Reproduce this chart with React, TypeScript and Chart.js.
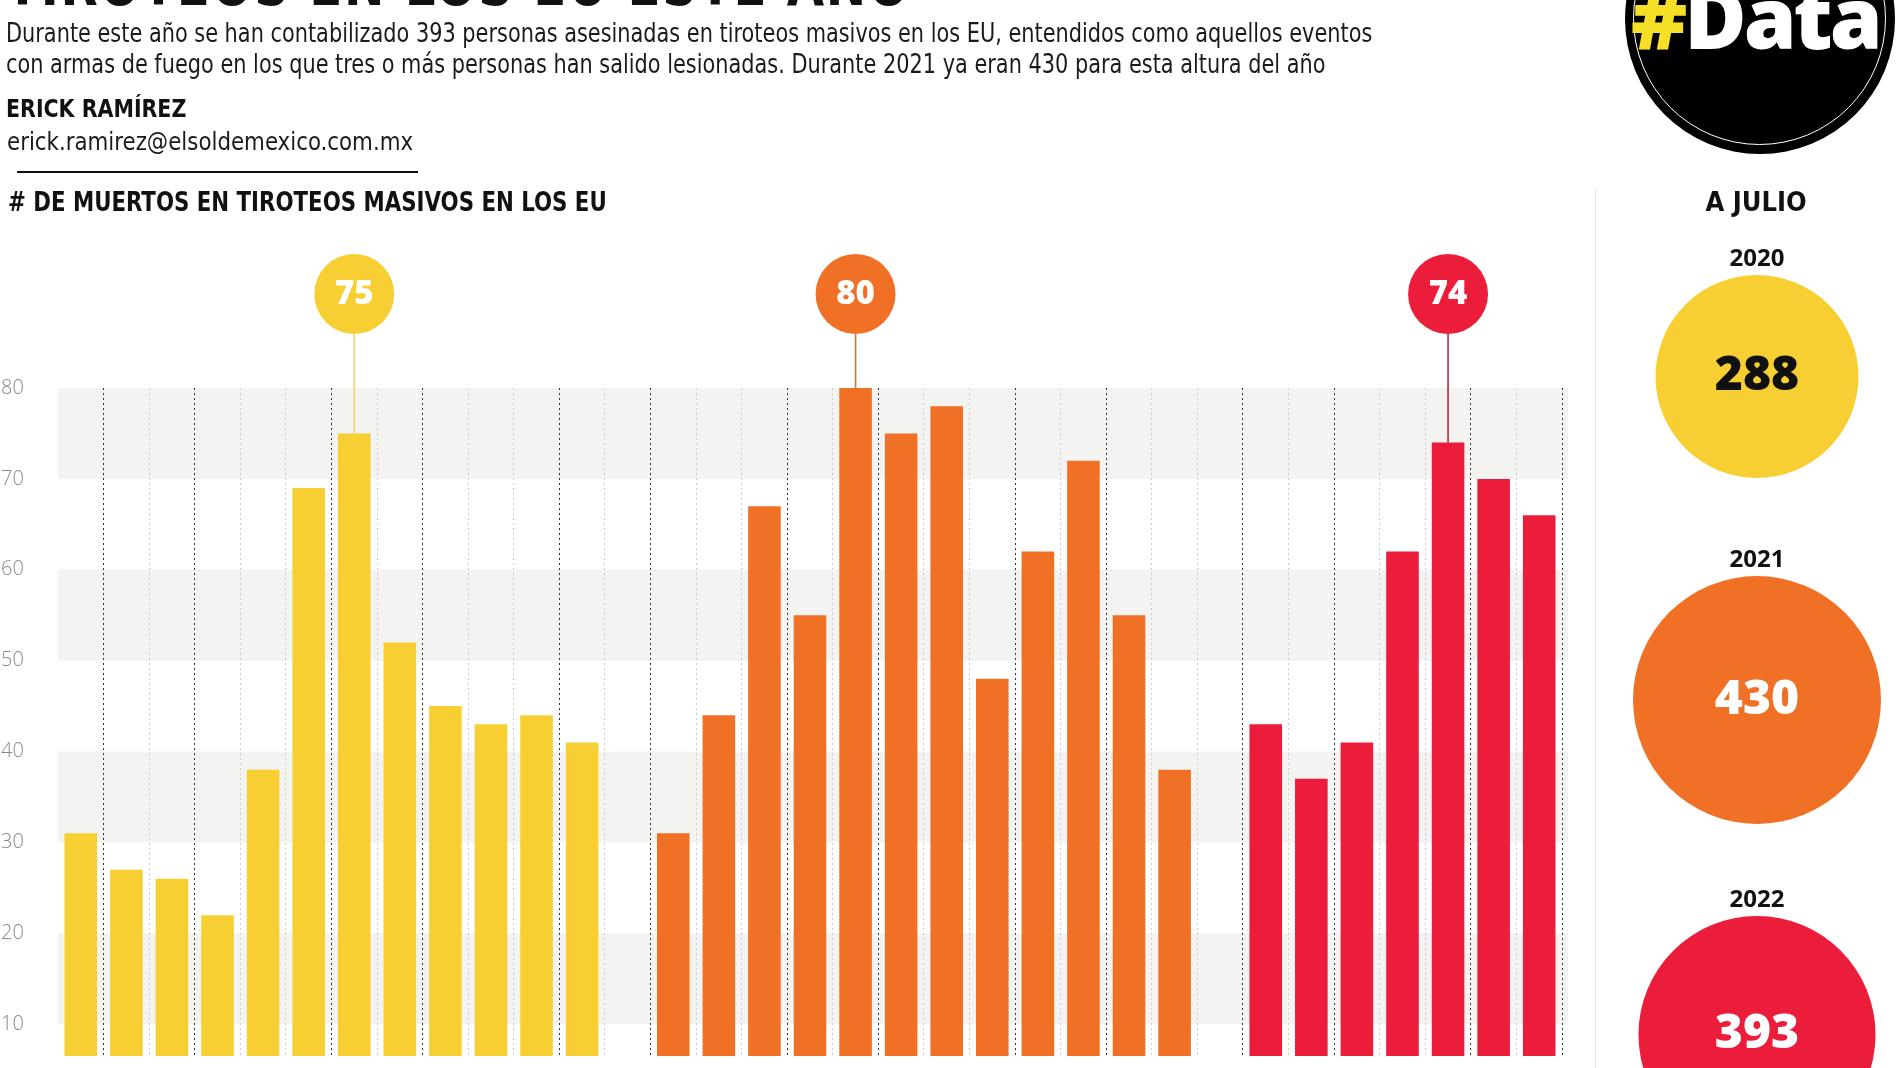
import React, { useEffect, useRef } from 'react';
import { Chart, registerables } from 'chart.js';

Chart.register(...registerables);

// ---------- data ----------
const monthNames = ['Ene', 'Feb', 'Mar', 'Abr', 'May', 'Jun', 'Jul', 'Ago', 'Sep', 'Oct', 'Nov', 'Dic'];
const years = ['2020', '2021', '2022'];
const deaths2020 = [31, 27, 26, 22, 38, 69, 75, 52, 45, 43, 44, 41];
const deaths2021 = [31, 44, 67, 55, 80, 75, 78, 48, 62, 72, 55, 38];
const deaths2022 = [43, 37, 41, 62, 74, 70, 66];
const totalsToJuly = [288, 430, 393];
const yTicks = [10, 20, 30, 40, 50, 60, 70, 80];
const bandRanges = [[70, 80], [50, 60], [30, 40], [10, 20]];

const seriesColors = ['#f7cf33', '#f07125', '#ec1c3b'];
const calloutLineColors = ['#f3d46a', '#c9763f', '#b8283a'];
const totalTextColors = ['#111111', '#ffffff', '#ffffff'];

const NARROW = '"Liberation Sans Narrow", "DejaVu Sans Condensed", Roboto, sans-serif';
const OPEN = '"Open Sans", "Noto Sans", sans-serif';

// categories: each year's months, with one empty slot between years
const labels: string[] = [];
const starts: number[] = [];
[deaths2020, deaths2021, deaths2022].forEach((arr, yi) => {
  if (yi > 0) labels.push('');
  starts.push(labels.length);
  arr.forEach((_, m) => labels.push(`${monthNames[m]} ${years[yi]}`));
});
const align = (arr: number[], start: number) =>
  labels.map((_, i) => (i >= start && i < start + arr.length ? arr[i - start] : null));

const bandPlugin = {
  id: 'bands',
  beforeDraw(chart: any) {
    const { ctx, chartArea, scales } = chart;
    const y = scales.y;
    ctx.save();
    ctx.fillStyle = '#f3f3f1';
    for (const [lo, hi] of bandRanges) {
      const t = y.getPixelForValue(hi);
      const b = y.getPixelForValue(lo);
      ctx.fillRect(chartArea.left, t, chartArea.right - chartArea.left + 6, b - t);
    }
    ctx.restore();
  },
};

const calloutPlugin = {
  id: 'callouts',
  afterDatasetsDraw(chart: any) {
    const { ctx, chartArea } = chart;
    ctx.save();
    chart.data.datasets.forEach((ds: any, di: number) => {
      const meta = chart.getDatasetMeta(di);
      let best = -1;
      let bv = -Infinity;
      ds.data.forEach((v: number | null, i: number) => {
        if (v != null && v > bv) {
          bv = v;
          best = i;
        }
      });
      if (best < 0) return;
      const bar = meta.data[best];
      const cx = bar.x;
      const r = 40;
      const cy = chartArea.top - 94;
      ctx.strokeStyle = calloutLineColors[di];
      ctx.lineWidth = 1.6;
      ctx.beginPath();
      ctx.moveTo(cx, bar.y);
      ctx.lineTo(cx, cy + r);
      ctx.stroke();
      ctx.fillStyle = seriesColors[di];
      ctx.beginPath();
      ctx.arc(cx, cy, r, 0, Math.PI * 2);
      ctx.fill();
      ctx.fillStyle = '#ffffff';
      ctx.font = `800 33px ${OPEN}`;
      ctx.textAlign = 'center';
      ctx.textBaseline = 'middle';
      ctx.fillText(String(bv), cx, cy + 1);
    });
    ctx.restore();
  },
};

const totalsPlugin = {
  id: 'totals',
  afterDraw(chart: any) {
    const { ctx } = chart;
    const cx = 1757;
    const labelY = [259, 560, 900];
    const maxTotal = Math.max(...totalsToJuly);
    const rMax = 124;
    ctx.save();
    totalsToJuly.forEach((v, i) => {
      const r = rMax * Math.sqrt(v / maxTotal);
      const cy = labelY[i] + 16 + r;
      ctx.fillStyle = '#111111';
      ctx.font = `bold 24px ${OPEN}`;
      ctx.textAlign = 'center';
      ctx.textBaseline = 'middle';
      ctx.fillText(years[i], cx, labelY[i]);
      ctx.fillStyle = seriesColors[i];
      ctx.beginPath();
      ctx.arc(cx, cy, r, 0, Math.PI * 2);
      ctx.fill();
      ctx.fillStyle = totalTextColors[i];
      ctx.font = `800 48px ${OPEN}`;
      ctx.fillText(String(v), cx, cy);
    });
    ctx.restore();
  },
};

export default function App() {
  const ref = useRef<HTMLCanvasElement | null>(null);

  useEffect(() => {
    if (!ref.current) return;
    const total = labels.length;
    const chart = new Chart(ref.current, {
      type: 'bar',
      data: {
        labels,
        datasets: [deaths2020, deaths2021, deaths2022].map((arr, i) => ({
          label: years[i],
          data: align(arr, starts[i]),
          backgroundColor: seriesColors[i],
          borderWidth: 0,
          barPercentage: 0.715,
          categoryPercentage: 1,
          grouped: false,
        })),
      },
      options: {
        responsive: false,
        animation: false,
        devicePixelRatio: 1,
        layout: { padding: { top: 388, right: 338, left: 1, bottom: 0 } },
        plugins: { legend: { display: false }, tooltip: { enabled: false } },
        scales: {
          x: {
            type: 'category',
            offset: true,
            grid: {
              offset: true,
              drawTicks: false,
              lineWidth: 1,
              color: (c: any) => {
                const k = c.index === undefined ? total : c.index;
                if (k === 0) return 'rgba(0,0,0,0)';
                const m = k % 5;
                return m === 1 || m === 3 ? '#333333' : '#cccccc';
              },
            },
            border: { display: false, dash: [2, 3] },
            ticks: { display: false },
            afterFit: (s: any) => {
              s.height = 0;
            },
          },
          y: {
            min: 6.5,
            max: 80,
            grid: { display: false },
            border: { display: false },
            ticks: {
              color: '#8a8a8a',
              font: { family: OPEN, size: 20, weight: '300' },
              crossAlign: 'far',
              padding: 0,
            },
            afterBuildTicks: (s: any) => {
              s.ticks = yTicks.map((v) => ({ value: v }));
            },
            afterFit: (s: any) => {
              s.width = 57;
            },
          },
        },
      } as any,
      plugins: [bandPlugin, calloutPlugin, totalsPlugin],
    });
    return () => chart.destroy();
  }, []);

  const abs = (s: React.CSSProperties, sx = 1): React.CSSProperties => ({
    position: 'absolute',
    whiteSpace: 'nowrap',
    transform: sx !== 1 ? `scaleX(${sx})` : undefined,
    transformOrigin: 'left top',
    ...s,
  });

  return (
    <div style={{ position: 'absolute', left: 0, top: 0, width: 1900, height: 1068, overflow: 'hidden', background: '#fff' }}>
      <canvas ref={ref} width={1900} height={1068} style={{ position: 'absolute', left: 0, top: 0 }} />
      <div style={abs({ left: 6, top: -47, font: `bold 62px ${NARROW}`, lineHeight: '62px', color: '#111', letterSpacing: 2 }, 0.866)}>
        TIROTEOS EN LOS EU ESTE AÑO
      </div>
      <div style={abs({ left: 6, top: 18, font: `26px ${NARROW}`, lineHeight: '31px', color: '#1a1a1a' }, 0.892)}>
        Durante este año se han contabilizado 393 personas asesinadas en tiroteos masivos en los EU, entendidos como aquellos eventos
        <br />
        con armas de fuego en los que tres o más personas han salido lesionadas. Durante 2021 ya eran 430 para esta altura del año
      </div>
      <div style={abs({ left: 6, top: 94, font: `bold 25px ${NARROW}`, lineHeight: '30px', color: '#111' }, 0.914)}>ERICK RAMÍREZ</div>
      <div style={abs({ left: 7, top: 127, font: `25px ${NARROW}`, lineHeight: '30px', color: '#1a1a1a' }, 0.949)}>
        erick.ramirez@elsoldemexico.com.mx
      </div>
      <div style={abs({ left: 17, top: 171, width: 401, height: 2, background: '#111' })} />
      <div style={abs({ left: 8, top: 187, font: `bold 26px ${NARROW}`, lineHeight: '30px', color: '#111' }, 0.911)}>
        # DE MUERTOS EN TIROTEOS MASIVOS EN LOS EU
      </div>
      <div style={abs({ left: 1595, top: 188, width: 1, height: 880, background: '#e8e8e8' })} />
      <div style={abs({ left: 1606, width: 300, top: 187, font: `bold 27px ${NARROW}`, lineHeight: '30px', color: '#111', textAlign: 'center' })}>
        A JULIO
      </div>
      <div style={abs({ left: 1625, top: -116, width: 270, height: 270, borderRadius: '50%', background: '#000', overflow: 'hidden' })}>
        <div style={abs({ left: 8, top: 8, width: 251, height: 251, borderRadius: '50%', border: '1.5px solid #fff' })} />
        <div style={abs({ left: 6, top: 90, font: `800 85px ${OPEN}`, lineHeight: '85px', letterSpacing: -3 })}>
          <span style={{ color: '#f5e027' }}>#</span>
          <span style={{ color: '#fff' }}>Data</span>
        </div>
      </div>
    </div>
  );
}
